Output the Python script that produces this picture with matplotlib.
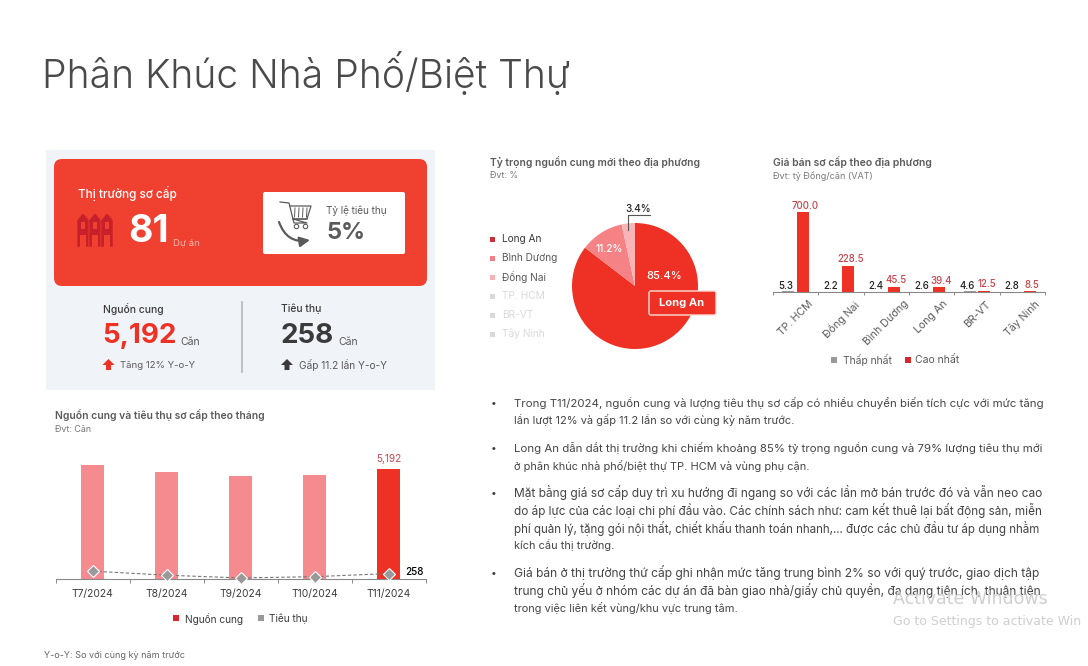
import matplotlib
matplotlib.use("Agg")
import matplotlib.pyplot as plt
from matplotlib.patches import FancyBboxPatch, Rectangle, Polygon, FancyArrowPatch

# data
months = ["T7/2024", "T8/2024", "T9/2024", "T10/2024", "T11/2024"]
supply = [5380, 5050, 4860, 4910, 5192]
sold = [370, 180, 50, 110, 258]

share_names = ["Long An", "Bình Dương", "Đồng Nai", "TP. HCM", "BR-VT", "Tây Ninh"]
share_values = [85.4, 11.2, 3.4]
share_colors = ["#ee3124", "#f58385", "#f9b4b5"]

price_names = ["TP. HCM", "Đồng Nai", "Bình Dương", "Long An", "BR-VT", "Tây Ninh"]
price_low = [5.3, 2.2, 2.4, 2.6, 4.6, 2.8]
price_high = [700.0, 228.5, 45.5, 39.4, 12.5, 8.5]

notes = [
    ["Trong T11/2024, nguồn cung và lượng tiêu thụ sơ cấp có nhiều chuyển biến tích cực với mức tăng",
     "lần lượt 12% và gấp 11.2 lần so với cùng kỳ năm trước."],
    ["Long An dẫn dắt thị trường khi chiếm khoảng 85% tỷ trọng nguồn cung và 79% lượng tiêu thụ mới",
     "ở phân khúc nhà phố/biệt thự TP. HCM và vùng phụ cận."],
    ["Mặt bằng giá sơ cấp duy trì xu hướng đi ngang so với các lần mở bán trước đó và vẫn neo cao",
     "do áp lực của các loại chi phí đầu vào. Các chính sách như: cam kết thuê lại bất động sản, miễn",
     "phí quản lý, tặng gói nội thất, chiết khấu thanh toán nhanh,... được các chủ đầu tư áp dụng nhằm",
     "kích cầu thị trường."],
    ["Giá bán ở thị trường thứ cấp ghi nhận mức tăng trung bình 2% so với quý trước, giao dịch tập",
     "trung chủ yếu ở nhóm các dự án đã bàn giao nhà/giấy chủ quyền, đa dạng tiện ích, thuận tiện",
     "trong việc liên kết vùng/khu vực trung tâm."],
]
note_y = [403, 448, 493, 573]

W, H = 1088, 666
RED = "#ee3124"
PANEL_RED = "#f04130"
PALE = "#f58b8f"
GREY = "#999999"
DARK = "#3a3a3a"
MID = "#5a5a5a"

plt.rcParams["font.family"] = ["Inter", "DejaVu Sans"]
fig = plt.figure(figsize=(W / 100, H / 100), dpi=100, facecolor="white")

# overlay in pixel coordinates for the text and boxes
bg = fig.add_axes([0, 0, 1, 1])
bg.set_xlim(0, W)
bg.set_ylim(H, 0)
bg.axis("off")
bg.set_zorder(3)


def px_axes(x0, y0, x1, y1):
    a = fig.add_axes([x0 / W, 1 - y1 / H, (x1 - x0) / W, (y1 - y0) / H])
    a.patch.set_alpha(0)
    return a


def txt(x, y, s, size, color=MID, weight="normal", ha="left", **kw):
    return bg.text(x, y, s, fontsize=size, color=color, fontweight=weight, ha=ha, va="center", **kw)


txt(42, 74, "Phân Khúc Nhà Phố/Biệt Thự", 28.1, "#4a4a4a", 300)

# left panel
bg.add_patch(Rectangle((46, 150), 389, 240, fc="#f0f3f8", ec="none"))
bg.add_patch(FancyBboxPatch((54, 159), 373, 127, boxstyle="round,pad=0,rounding_size=8", fc=PANEL_RED, ec="none"))
bg.add_patch(FancyBboxPatch((263, 192), 142, 62, boxstyle="round,pad=0,rounding_size=2", fc="white", ec="none"))

txt(78, 194, "Thị trường sơ cấp", 8.5, "white", 500)
txt(128, 232, "81", 27, "white", "bold")
txt(173, 243, "Dự án", 6.9, "#f7b8ae")
txt(326, 211, "Tỷ lệ tiêu thụ", 7.2, MID)
txt(327, 233, "5%", 17, MID, "bold")

# building icon
for bx in (78, 90, 102):
    bg.add_patch(Polygon([(bx - 1, 247), (bx - 1, 220), (bx + 5, 213), (bx + 11, 220), (bx + 11, 247)],
                         fc="#c8202a", ec=PANEL_RED, lw=0.4))
    bg.add_patch(Rectangle((bx + 3, 222), 4, 7, fc=PANEL_RED, ec="none"))
    bg.add_patch(Rectangle((bx + 2, 235), 6, 12, fc=PANEL_RED, ec="none"))

# cart icon
bg.plot([280, 289, 294, 307, 293, 307], [202, 203, 223, 223, 219, 219], color=MID, lw=0.9)
bg.plot([290, 311, 307, 293], [206, 206, 219, 219], color=MID, lw=0.9)
for bar_x in (295, 299, 303, 307):
    bg.plot([bar_x, bar_x - 0.5], [208, 217], color=MID, lw=0.7)
bg.plot([296, 305], [226, 226], "o", mfc="white", mec=MID, ms=3.2, mew=0.8)
bg.add_patch(FancyArrowPatch((279, 222), (310, 240), connectionstyle="arc3,rad=0.42", arrowstyle="-|>",
                             mutation_scale=15, color=MID, lw=1.6, shrinkA=0, shrinkB=0))

# supply / sold figures
bg.plot([242, 242], [302, 372], color="#b5b8bd", lw=1.2)
txt(103, 309, "Nguồn cung", 7.4, DARK, 500)
txt(102, 336, "5,192", 20, RED, "bold")
txt(180, 342, "Căn", 7.5, MID)
txt(120, 365, "Tăng 12% Y-o-Y", 6.9, MID)
txt(281, 309, "Tiêu thụ", 7.4, DARK, 500)
txt(280, 336, "258", 20, DARK, "bold")
txt(338, 342, "Căn", 7.5, MID)
txt(299, 365, "Gấp 11.2 lần Y-o-Y", 7.3, MID)
for ax_x, col in ((108.5, RED), (287, DARK)):
    bg.add_patch(Polygon([(ax_x - 6, 365), (ax_x, 359), (ax_x + 6, 365), (ax_x + 2.5, 365), (ax_x + 2.5, 370),
                          (ax_x - 2.5, 370), (ax_x - 2.5, 365)], fc=col, ec="none"))

# monthly chart
txt(55, 415, "Nguồn cung và tiêu thụ sơ cấp theo tháng", 7.45, MID, 600)
txt(55, 430, "Đvt: Căn", 6.4, "#777777")

ax1 = px_axes(55.5, 440, 426, 579)
x1 = list(range(len(months)))
cols = [PALE] * 4 + [RED]
ax1.bar(x1, supply, width=0.31, color=cols)
ax1.plot(x1, sold, color="#777777", lw=0.8, ls=(0, (3, 2)), marker="D", ms=6.5, mfc=GREY, mec="white",
         mew=0.8, clip_on=False, zorder=5)
ax1.set_xlim(-0.5, 4.5)
ax1.set_ylim(0, 139 * 5192 / 110)
ax1.set_xticks([i - 0.5 for i in range(6)])
ax1.set_xticklabels([])
ax1.set_xticks(x1, minor=True)
ax1.set_xticklabels(months, minor=True, fontsize=7.4, color=DARK)
ax1.tick_params(axis="x", which="major", length=3, color="#888888", direction="out", width=0.7)
ax1.tick_params(axis="x", which="minor", length=0, pad=7)
ax1.set_yticks([])
for s in ("top", "left", "right"):
    ax1.spines[s].set_visible(False)
ax1.spines["bottom"].set_color("#888888")
ax1.annotate(f"{supply[4]:,}", (4, supply[4]), xytext=(0, 5), textcoords="offset points", ha="center",
             fontsize=7.2, color="#c8464f")
ax1.annotate(str(sold[4]), (4, sold[4]), xytext=(12, 1), textcoords="offset points", va="center",
             fontsize=7.2, color="black", fontweight=500)

bg.add_patch(Rectangle((173, 615), 6, 6, fc="#d9262c", ec="none"))
txt(185, 619, "Nguồn cung", 7.3, DARK)
bg.add_patch(Rectangle((258, 615), 6, 6, fc=GREY, ec="none"))
txt(269, 619, "Tiêu thụ", 7.3, DARK)
txt(44, 655, "Y-o-Y: So với cùng kỳ năm trước", 6.5, "#666666")

# pie
txt(490, 162, "Tỷ trọng nguồn cung mới theo địa phương", 7.4, MID, 600)
txt(490, 176, "Đvt: %", 6.4, "#777777")
ax2 = px_axes(572, 223, 698, 349)
ax2.pie(share_values, colors=share_colors, startangle=90, counterclock=False, radius=1,
        wedgeprops={"edgecolor": "none"})
ax2.set_xlim(-1, 1)
ax2.set_ylim(-1, 1)
txt(664, 276, "85.4%", 8, "white", 500, ha="center")
txt(609, 249, "11.2%", 7.2, "white", 500, ha="center")
txt(638, 209, "3.4%", 7.2, "#222222", 500, ha="center")
bg.plot([628, 628, 650], [230, 215, 215], color="#555555", lw=0.8)
bg.add_patch(FancyBboxPatch((649, 291), 67, 24, boxstyle="round,pad=0,rounding_size=2", fc=RED, ec="#fbdcd8", lw=1))
txt(682, 303, "Long An", 8, "white", "bold", ha="center")

legend_y = [239, 258, 277, 296, 315, 334]
legend_sq = ["#c8303a", "#ee8085", "#f5b2b4", "#d9d9d9", "#d9d9d9", "#d9d9d9"]
legend_tx = [DARK, MID, MID, "#d9d9d9", "#d9d9d9", "#d9d9d9"]
for name, yy, sq, tc in zip(share_names, legend_y, legend_sq, legend_tx):
    bg.add_patch(Rectangle((490, yy - 2.5), 5, 5, fc=sq, ec="none"))
    txt(502, yy, name, 7.3, tc)

# price chart
txt(773, 162, "Giá bán sơ cấp theo địa phương", 7.5, MID, 600)
txt(773, 176, "Đvt: tỷ Đồng/căn (VAT)", 6.5, "#777777")
ax3 = px_axes(773, 195, 1045, 292)
x3 = list(range(len(price_names)))
ax3.bar([i - 0.163 for i in x3], price_low, width=0.265, color=GREY)
ax3.bar([i + 0.163 for i in x3], price_high, width=0.265, color=RED)
ax3.set_xlim(-0.5, 5.5)
ax3.set_ylim(0, 97 * 700 / 80)
ax3.set_xticks([i - 0.5 for i in range(7)])
ax3.set_xticklabels([])
ax3.set_xticks(x3, minor=True)
ax3.set_xticklabels(price_names, minor=True, fontsize=7.6, color=MID, rotation=45, ha="center")
ax3.tick_params(axis="x", which="major", length=2, color="#888888", width=0.7)
ax3.tick_params(axis="x", which="minor", length=0, pad=5)
ax3.set_yticks([])
for s in ("top", "left", "right"):
    ax3.spines[s].set_visible(False)
ax3.spines["bottom"].set_color("#888888")
for i in x3:
    ax3.annotate(f"{price_low[i]:.1f}", (i - 0.163, price_low[i]), xytext=(-2, 2), textcoords="offset points",
                 ha="center", fontsize=7, color="#222222", fontweight=500)
    ax3.annotate(f"{price_high[i]:.1f}", (i + 0.163, price_high[i]), xytext=(1.5, 2.5), textcoords="offset points",
                 ha="center", fontsize=7, color="#c8464f", fontweight=500)
bg.add_patch(Rectangle((831, 357), 6, 6, fc=GREY, ec="none"))
txt(843, 360, "Thấp nhất", 7.4, MID)
bg.add_patch(Rectangle((905, 357), 6, 6, fc="#d9262c", ec="none"))
txt(915, 360, "Cao nhất", 7.5, MID)

# commentary, full lines scaled a hair so they fill the column like the justified original
renderer = fig.canvas.get_renderer()
for block, y0 in zip(notes, note_y):
    txt(491, y0, "•", 7.5, DARK)
    for k, line in enumerate(block):
        t = txt(514, y0 + k * 17.5, line, 7.9, "#444444")
        if k < len(block) - 1:
            t.set_fontsize(7.9 * 531 / t.get_window_extent(renderer).width)

# the screenshot's watermark
txt(893, 599, "Activate Windows", 12.5, "#cfcfcf", family=["DejaVu Sans"])
txt(893, 621, "Go to Settings to activate Win", 9, "#cfcfcf", family=["DejaVu Sans"])

fig.savefig("out.png", dpi=100)
